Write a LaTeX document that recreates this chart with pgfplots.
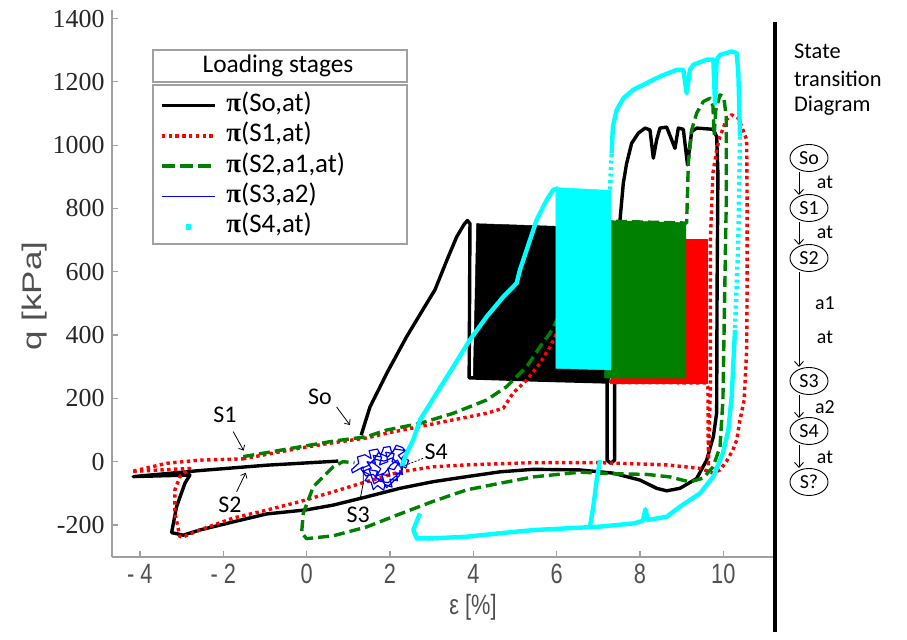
\documentclass[border=0pt]{standalone}
\usepackage{pgfplots}
\pgfplotsset{compat=1.18}
\usepackage{fontspec}
\usetikzlibrary{arrows.meta}
\setmainfont{Carlito}
\newfontfamily\axisfont[FakeStretch=0.78]{Liberation Sans}
\newfontfamily\ylabfont[FakeStretch=1.3]{Liberation Sans}
\newfontfamily\numfont{Liberation Serif}
\newfontfamily\greekfont{Liberation Serif}

\definecolor{mgreen}{RGB}{0,128,0}
\definecolor{aqua}{RGB}{0,255,255}
\definecolor{axisgray}{RGB}{160,160,160}
\definecolor{labelgray}{RGB}{80,80,80}

\newcommand{\bpi}{{\greekfont\bfseries π}}

\begin{document}
\begin{tikzpicture}
\useasboundingbox (0,0) rectangle (907bp,640bp);
\begin{axis}[
  at={(112bp,83bp)}, anchor=south west,
  scale only axis, width=663bp, height=547bp,
  xmin=-4.67, xmax=11.24, ymin=-301, ymax=1427,
  axis x line*=bottom, axis y line*=left,
  axis line style={axisgray, line width=1.3bp},
  tick align=inside,
  major tick length=6bp,
  tick style={axisgray, line width=1.2bp},
  xtick={-4,-2,0,2,4,6,8,10},
  xticklabels={- 4,- 2,0,2,4,6,8,10},
  ytick={-200,0,200,400,600,800,1000,1200,1400},
  yticklabels={-200,0,200,400,600,800,1000,1200,1400},
  xticklabel style={font=\axisfont\fontsize{28}{30}\selectfont, text=labelgray, yshift=-4bp},
  yticklabel style={font=\numfont\fontsize{26}{28}\selectfont, text=black!85, xshift=-4bp},
  legend style={at={(axis description cs:0.0724,0.8473)}, anchor=north west,
    draw=none, fill=none, inner sep=0pt, outer sep=0pt,
    row sep=6.3bp, column sep=10bp,
    font=\fontsize{27}{29}\selectfont,
    nodes={inner sep=0pt, text height=18bp, text depth=6bp}},
  legend cell align=left,
  legend image code/.code={\draw[#1, line cap=butt] (0bp,0bp) -- (53bp,0bp);},
  every axis plot/.append style={line join=round},
]

% legend entries
\addlegendimage{black, line width=3.4bp}
\addlegendentry{\bpi(So,at)}
\addlegendimage{red, line width=3.4bp, dash pattern=on 3.4bp off 3.4bp}
\addlegendentry{\bpi(S1,at)}
\addlegendimage{mgreen, line width=3.4bp, dash pattern=on 13bp off 5bp}
\addlegendentry{\bpi(S2,a1,at)}
\addlegendimage{blue, line width=1.2bp}
\addlegendentry{\bpi(S3,a2)}
\addlegendimage{aqua, legend image code/.code={\fill[aqua] (24.5bp,-2.2bp) rectangle (28.9bp,2.2bp);}}
\addlegendentry{\bpi(S4,at)}

% ---- S0 : cyclic block and loading path
\addplot[fill=black, draw=black, line width=0.5bp, forget plot] coordinates {
 (4.00,265) (4.08,752) (7.28,738) (7.28,252)} -- cycle;
\addplot[black, line width=3.4bp, forget plot] coordinates {
 (1.31,84) (1.52,173) (1.93,281) (2.40,395) (2.89,502) (3.08,543) (3.37,638)
 (3.60,710) (3.78,750) (3.86,762) (3.92,752) (3.91,500) (3.90,265) (5.54,258)
 (7.21,252) (7.21,5) (7.30,-5) (7.39,5) (7.39,250) (7.45,520) (7.52,763)
 (7.60,880) (7.68,943) (7.80,1006) (7.96,1038) (8.12,1054) (8.24,1048)
 (8.32,959) (8.40,1017) (8.48,1054) (8.64,1057) (8.84,990) (8.92,1054)
 (9.04,1050) (9.14,938) (9.24,1043) (9.36,1054) (9.76,1050) (9.84,1027)
 (9.87,911) (9.85,543) (9.84,154) (9.76,79) (9.60,5) (9.36,-53) (8.96,-84)
 (8.64,-92) (8.40,-84) (8.00,-58) (7.35,-36) (6.56,-26) (5.44,-24) (4.64,-32)
 (3.85,-47) (3.04,-63) (2.24,-84) (1.44,-111) (0.64,-137) (0.00,-152)
 (-0.96,-165) (-1.76,-190) (-2.57,-216) (-2.96,-232) (-3.24,-224) (-3.12,-142)
 (-2.92,-68) (-2.80,-42) (-4.16,-47) (-2.57,-28) (-0.96,-11) (0.76,2)};

% ---- S1
\addplot[fill=red, draw=red, line width=0.5bp, forget plot] coordinates {
 (7.30,249) (7.30,703) (9.61,703) (9.61,249)} -- cycle;
\addplot[red, line width=3.4bp, dash pattern=on 3.4bp off 3.4bp, forget plot] coordinates {
 (-1.53,9) (-0.16,43) (0.64,60) (1.44,75) (1.92,90) (2.72,111) (3.51,132)
 (4.32,153) (4.72,169) (4.95,216) (5.28,258) (5.60,311) (5.84,363) (5.98,400)
 (6.65,560) (7.30,700) (7.30,250) (9.59,249) (9.63,236) (9.64,-15) (9.69,236)
 (9.69,703) (9.72,806) (9.75,912) (9.84,985) (9.92,1027) (10.07,1080)
 (10.20,1096) (10.36,1085) (10.44,1059) (10.56,1017) (10.57,827) (10.57,542)
 (10.56,353) (10.50,195) (10.40,132) (10.32,68) (10.23,37) (10.07,0)
 (9.92,-26) (9.75,-36) (9.44,-21) (8.64,-10) (7.04,-3) (5.43,-3) (3.84,-10)
 (3.04,-16) (2.24,-32) (1.44,-63) (0.64,-95) (-0.16,-126) (-0.96,-153)
 (-1.76,-178) (-2.57,-216) (-2.92,-235) (-3.04,-237) (-3.16,-162) (-3.16,-89)
 (-3.04,-47) (-2.80,-21) (-4.20,-31) (-3.36,-5) (-2.57,5) (-1.53,9)};

% ---- S2
\addplot[fill=mgreen, draw=mgreen, line width=0.5bp, forget plot] coordinates {
 (7.15,264) (7.15,762) (9.10,755) (9.10,264)} -- cycle;
\addplot[mgreen, line width=3.4bp, dash pattern=on 11bp off 5bp, forget plot] coordinates {
 (-1.52,16) (-0.16,47) (0.64,65) (1.44,79) (1.92,100) (2.72,121) (3.52,153)
 (4.32,195) (4.80,237) (5.28,300) (5.60,363) (5.84,406) (5.98,441) (6.65,600)
 (7.15,760) (9.10,754) (9.12,754) (9.16,943) (9.24,1048) (9.36,1101)
 (9.52,1138) (9.68,1148) (9.75,1124) (9.78,1032) (9.82,1111) (9.92,1159)
 (10.01,1152) (10.07,1090) (10.07,817) (10.03,510) (9.99,195) (9.92,46)
 (9.75,-17) (9.51,-52) (9.20,-64) (8.72,-48) (8.16,-40) (7.35,-38) (6.56,-33)
 (5.44,-48) (4.64,-68) (3.84,-89) (3.04,-125) (2.24,-165) (1.44,-206)
 (0.64,-234) (0.00,-243) (-0.12,-225) (-0.08,-163) (0.16,-79) (0.64,-16)
 (0.87,0) (1.15,-3)};

% ---- S3 (tangled small cycles)
\addplot[blue, line width=1.2bp, forget plot] coordinates {
 (1.36,-16) (1.10,-35) (1.08,-25) (1.25,-5) (1.22,15) (1.40,22) (1.55,10)
 (1.50,35) (1.70,40) (1.78,20) (1.85,45) (2.00,48) (2.05,25) (2.15,52)
 (2.30,45) (2.40,30) (2.28,10) (2.45,5) (2.38,-20) (2.25,-10) (2.30,-40)
 (2.15,-35) (2.18,-60) (2.00,-55) (2.05,-80) (1.88,-72) (1.85,-90) (1.70,-75)
 (1.60,-88) (1.55,-65) (1.40,-60) (1.50,-40) (1.35,-30) (1.55,-20) (1.45,0)
 (1.65,-5) (1.60,20) (1.80,15) (1.75,-10) (1.95,0) (1.90,30) (2.10,25)
 (2.05,0) (2.20,-5) (2.10,-25) (1.95,-20) (2.00,-45) (1.80,-40) (1.85,-60)
 (1.65,-50) (1.70,-30) (1.50,-25) (1.62,-70) (1.80,-55) (1.92,-82) (2.10,-60)
 (2.22,-45) (2.35,-5) (2.20,20) (2.38,35) (2.12,40) (1.95,15) (1.72,28)
 (1.58,-2) (1.78,-22) (1.68,-45) (1.88,-35) (2.02,-10) (2.18,5) (2.30,-25)
 (2.12,-48) (1.96,-66) (1.76,-62) (1.60,-40) (1.42,-45) (1.30,-22) (1.48,-12)
 (1.62,8) (1.86,2) (2.06,12) (2.25,-16) (2.28,-16)};

% ---- S4
\addplot[fill=aqua, draw=aqua, line width=0.5bp, forget plot] coordinates {
 (5.98,295) (5.98,866) (7.30,857) (7.30,290)} -- cycle;
\addplot[aqua, line width=4.4bp, forget plot] coordinates {
 (2.28,-16) (2.40,27) (2.56,69) (2.72,132) (3.12,216) (3.52,300) (3.92,385)
 (4.32,458) (4.72,521) (5.04,564) (5.12,606) (5.28,669) (5.52,764) (5.76,827)
 (5.92,859) (6.04,864)};
\addplot[aqua, line width=4.4bp, dash pattern=on 3bp off 3.5bp, forget plot] coordinates {
 (7.28,860) (7.32,975)};
\addplot[aqua, line width=4.4bp, forget plot] coordinates {
 (7.32,975) (7.35,1059) (7.44,1111) (7.60,1148) (7.84,1175) (8.16,1196)
 (8.48,1217) (8.88,1238) (9.04,1238) (9.12,1164) (9.20,1238) (9.28,1254)
 (9.60,1270) (9.76,1270) (9.80,1133) (9.84,1270) (9.92,1285) (10.20,1296)
 (10.32,1291) (10.36,1228) (10.40,1027)};
\addplot[aqua, line width=4.4bp, dash pattern=on 3bp off 3.5bp, forget plot] coordinates {
 (10.40,1027) (10.36,700) (10.28,416)};
\addplot[aqua, line width=4.4bp, forget plot] coordinates {
 (10.28,416) (10.20,205) (10.12,100) (9.99,27) (9.76,-47) (9.44,-100)
 (8.96,-142) (8.64,-174) (8.19,-184) (8.13,-150) (8.07,-187) (7.84,-195)
 (7.04,-205) (5.44,-216) (4.64,-226) (3.84,-237) (3.04,-242) (2.64,-242)
 (2.56,-216) (2.72,-163)};
\addplot[aqua, line width=4.4bp, forget plot] coordinates {
 (6.80,-205) (6.88,-142) (6.96,-58) (7.04,5)};

% ---- stage markers
\node[font=\fontsize{24}{26}\selectfont] at (axis cs:0.32,205) {So};
\draw[-{Straight Barb[length=4bp,width=7bp]}, line width=0.8bp] (axis cs:0.72,173) -- (axis cs:1.04,116);
\node[font=\fontsize{24}{26}\selectfont] at (axis cs:-1.96,148) {S1};
\draw[-{Straight Barb[length=4bp,width=7bp]}, line width=0.8bp] (axis cs:-1.76,95) -- (axis cs:-1.51,35);
\node[font=\fontsize{24}{26}\selectfont] at (axis cs:-1.84,-137) {S2};
\draw[-{Straight Barb[length=4bp,width=7bp]}, line width=0.8bp] (axis cs:-1.68,-95) -- (axis cs:-1.46,-35);
\node[font=\fontsize{24}{26}\selectfont] at (axis cs:1.24,-168) {S3};
\draw[line width=0.8bp] (axis cs:1.36,-16) -- (axis cs:1.36,-68) -- (axis cs:1.28,-121);
\node[font=\fontsize{24}{26}\selectfont, anchor=west, inner sep=0pt] at (axis cs:2.83,32) {S4};
\draw[line width=0.8bp, dash pattern=on 2bp off 1.5bp] (axis cs:2.28,-16) -- (axis cs:2.80,11);
\end{axis}

\begin{scope}[x=1bp, y=-1bp, shift={(0,640bp)}]
  % legend frames
  \draw[axisgray, line width=1.6bp] (153,50) rectangle (407,82);
  \node[font=\fontsize{25.5}{27}\selectfont] at (278,66) {Loading stages};
  \draw[axisgray, line width=1.6bp] (153,85) rectangle (407,244);
  % axis titles
  \node[font=\axisfont\fontsize{28}{30}\selectfont, text=labelgray] at (473,607) {ε [\%]};
  \node[font=\ylabfont\fontsize{27}{30}\selectfont, text=labelgray, rotate=90] at (35,296) {q [kPa]};
  % separator
  \draw[line width=4bp] (775,22) -- (775,632);
  % state transition diagram
  \begin{scope}[font=\fontsize{22.5}{24}\selectfont]
    \node[anchor=west, inner sep=0pt] at (794,51) {State};
    \node[anchor=west, inner sep=0pt] at (794,79) {transition};
    \node[anchor=west, inner sep=0pt] at (794,106) {Diagram};
  \end{scope}
  \begin{scope}[font=\fontsize{20}{22}\selectfont]
    \foreach \yc/\lab in {158/So,208/S1,258/S2,381/S3,431/S4,482/S?}{
      \draw[line width=0.9bp] (809,\yc) ellipse [x radius=19, y radius=13.5];
      \node at (809,\yc) {\lab};
    }
    \foreach \ya/\yb in {172/195,222/245,272/367,395/418,445/468}{
      \draw[-{Straight Barb[length=5bp,width=9bp]}, line width=0.9bp] (799,\ya) -- (799,\yb);
    }
    \node at (825,182) {at};
    \node at (825,232) {at};
    \node at (825,303) {a1};
    \node at (825,337) {at};
    \node at (825,407) {a2};
    \node at (825,457) {at};
  \end{scope}
\end{scope}
\end{tikzpicture}
\end{document}
